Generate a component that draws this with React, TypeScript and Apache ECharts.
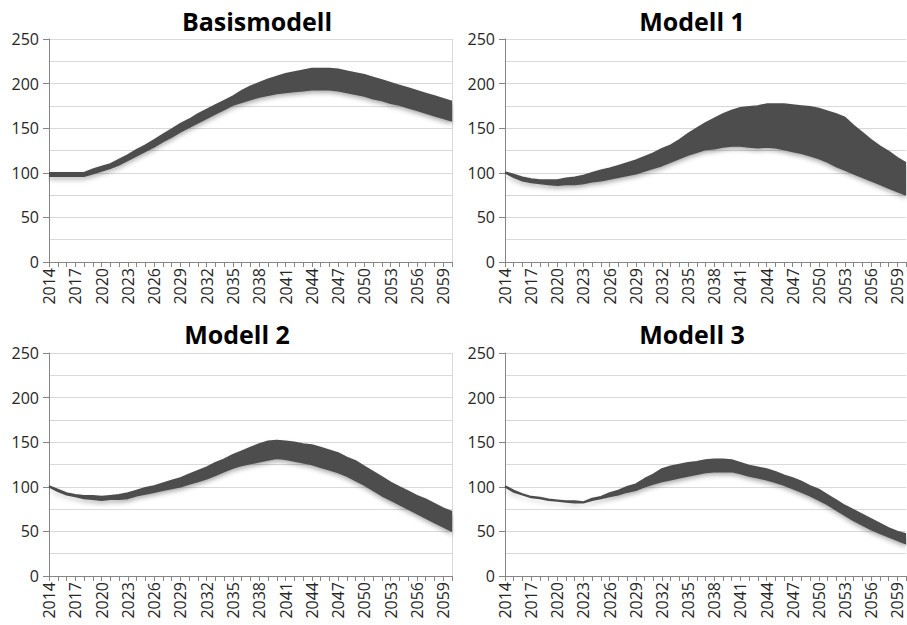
import React, { useEffect, useRef } from "react";
import * as echarts from "echarts";

const years: string[] = [];
for (let y = 2014; y <= 2060; y++) years.push(String(y));

const titles = ["Basismodell", "Modell 1", "Modell 2", "Modell 3"];

const basisUpper = [100, 100, 100, 100, 100, 104, 107, 110, 115, 120, 126, 131, 137, 143, 149, 155, 160, 166, 171, 176, 181, 186, 192, 197, 201, 205, 208, 211, 213, 215, 217, 217, 217, 216, 214, 212, 210, 207, 204, 201, 198, 195, 192, 189, 186, 183, 180];
const basisLower = [96, 96, 96, 96, 96, 99, 102, 105, 109, 114, 119, 124, 129, 135, 140, 146, 151, 156, 161, 166, 171, 176, 179, 182, 185, 187, 189, 190, 191, 192, 193, 193, 193, 192, 190, 188, 186, 183, 181, 178, 176, 173, 170, 167, 164, 161, 158];

const m1Upper = [101, 98, 95, 93, 92, 92, 92, 94, 95, 97, 100, 103, 105, 108, 111, 114, 118, 122, 127, 131, 137, 144, 150, 156, 161, 166, 170, 173, 174, 175, 177, 177, 177, 176, 175, 174, 172, 169, 166, 162, 153, 145, 137, 130, 124, 117, 111];
const m1Lower = [100, 95, 91, 89, 88, 87, 86, 87, 87, 88, 90, 91, 93, 95, 97, 99, 102, 105, 108, 112, 116, 120, 123, 126, 127, 129, 130, 130, 129, 128, 129, 128, 126, 124, 122, 119, 116, 112, 107, 103, 99, 95, 91, 87, 83, 79, 75];

const m2Upper = [101, 97, 93, 91, 90, 90, 89, 90, 91, 93, 96, 99, 101, 104, 107, 110, 114, 118, 122, 127, 131, 136, 140, 144, 148, 151, 152, 151, 150, 148, 147, 144, 141, 138, 133, 129, 123, 117, 111, 105, 100, 95, 90, 86, 81, 76, 72];
const m2Lower = [100, 95, 91, 89, 87, 86, 85, 86, 86, 87, 90, 92, 94, 96, 98, 100, 103, 106, 109, 113, 117, 121, 124, 126, 128, 130, 132, 131, 129, 127, 125, 122, 119, 116, 112, 107, 102, 96, 90, 85, 80, 75, 70, 65, 60, 55, 50];

const m3Upper = [101, 96, 92, 89, 88, 86, 85, 84, 84, 83, 87, 89, 93, 96, 100, 103, 109, 114, 120, 123, 125, 127, 128, 130, 131, 131, 130, 127, 124, 122, 120, 117, 113, 110, 106, 101, 97, 91, 85, 79, 74, 69, 64, 59, 54, 50, 47];
const m3Lower = [100, 94, 91, 88, 87, 85, 84, 83, 82, 82, 85, 87, 89, 91, 94, 96, 100, 103, 106, 108, 110, 112, 114, 116, 117, 117, 117, 115, 112, 110, 108, 105, 102, 98, 94, 90, 85, 80, 74, 68, 62, 57, 52, 48, 44, 40, 36];

const uppers = [basisUpper, m1Upper, m2Upper, m3Upper];
const lowers = [basisLower, m1Lower, m2Lower, m3Lower];

const FONT = "'Open Sans', 'DejaVu Sans', sans-serif";
const BAND = "#4d4d4d";

export default function App() {
  const ref = useRef<HTMLDivElement>(null);
  useEffect(() => {
    if (!ref.current) return;
    const chart = echarts.init(ref.current, undefined, { renderer: "svg" });
    const grids = [
      { left: 49, top: 39, width: 403, height: 223 },
      { left: 505, top: 39, width: 401, height: 223 },
      { left: 49, top: 353, width: 403, height: 223 },
      { left: 505, top: 353, width: 401, height: 223 },
    ];
    const titlePos = [
      [257, 21],
      [692, 21],
      [237, 334],
      [692, 334],
    ];
    const xAxes = grids.map((_, i) => ({
      type: "category",
      gridIndex: i,
      data: years,
      boundaryGap: false,
      axisLine: { lineStyle: { color: "#868686", width: 1 } },
      axisTick: { interval: 0, length: 5, lineStyle: { color: "#868686" } },
      axisLabel: {
        interval: 2,
        rotate: 90,
        fontSize: 16,
        fontFamily: FONT,
        color: "#262626",
        margin: 6,
      },
      splitLine: { show: false },
    }));
    const yAxes = grids.map((_, i) => ({
      type: "value",
      gridIndex: i,
      min: 0,
      max: 250,
      interval: 50,
      axisLine: { show: true, lineStyle: { color: "#868686", width: 1 } },
      axisTick: { show: true, length: 6, lineStyle: { color: "#868686" } },
      axisLabel: { fontSize: 16, fontFamily: FONT, color: "#262626", margin: 10 },
      splitLine: { show: true, lineStyle: { color: "#d9d9d9", width: 1 } },
      minorTick: { show: false, splitNumber: 2 },
      minorSplitLine: { show: true, lineStyle: { color: "#d9d9d9", width: 1 } },
    }));
    const series: any[] = [];
    uppers.forEach((up, i) => {
      const lo = lowers[i];
      series.push({
        type: "line",
        xAxisIndex: i,
        yAxisIndex: i,
        stack: "band" + i,
        data: lo,
        symbol: "none",
        lineStyle: { color: BAND, width: 1.5 },
        silent: true,
      });
      series.push({
        type: "line",
        xAxisIndex: i,
        yAxisIndex: i,
        stack: "band" + i,
        data: up.map((v, k) => v - lo[k]),
        symbol: "none",
        lineStyle: { color: BAND, width: 1.5 },
        areaStyle: {
          color: BAND,
          opacity: 1,
          shadowBlur: 5,
          shadowColor: "rgba(0,0,0,0.35)",
          shadowOffsetY: 3,
        },
        silent: true,
      });
    });
    const graphic: any[] = titles.map((t, i) => ({
      type: "text",
      x: titlePos[i][0],
      y: titlePos[i][1],
      style: {
        text: t,
        fontFamily: FONT,
        fontWeight: "bold",
        fontSize: 25,
        fill: "#000",
        textAlign: "center",
        textVerticalAlign: "middle",
      },
    }));
    [39, 353].forEach((top) => {
      graphic.push({
        type: "line",
        shape: { x1: 452.5, y1: top, x2: 452.5, y2: top + 223 },
        style: { stroke: "#d9d9d9", lineWidth: 1 },
      });
    });
    chart.setOption({
      animation: false,
      backgroundColor: "#ffffff",
      grid: grids,
      xAxis: xAxes,
      yAxis: yAxes,
      series,
      graphic,
    });
    return () => chart.dispose();
  }, []);
  return (
    <div
      ref={ref}
      style={{ position: "fixed", left: 0, top: 0, width: 907, height: 625 }}
    />
  );
}
